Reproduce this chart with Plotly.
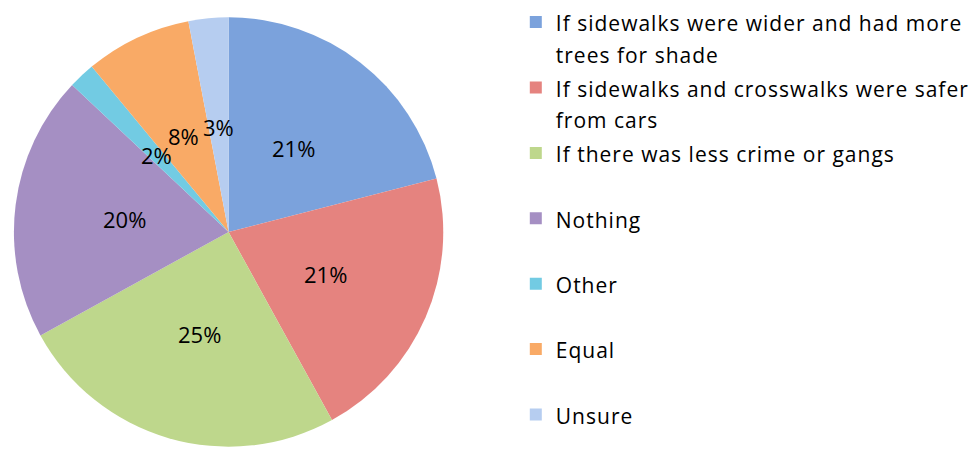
import math
import plotly.graph_objects as go

# ---- data ----
legend_lines = [
    ["If sidewalks were wider and had more", "trees for shade"],
    ["If sidewalks and crosswalks were safer", "from cars"],
    ["If there was less crime or gangs"],
    ["Nothing"],
    ["Other"],
    ["Equal"],
    ["Unsure"],
]
values = [21, 21, 25, 20, 2, 8, 3]
colors = ["#7ba2dc", "#e5837f", "#bed78c", "#a58fc3", "#72cbe3", "#f9aa66", "#b6cdf0"]

W, H = 974, 449
# pie domain in pixels
px0, px1 = 14, 446
py_top, py_bot = 15, 449
dom_x = [px0 / W, px1 / W]
dom_y = [(H - py_bot) / H, (H - py_top) / H]

FONT = "Open Sans"
TEXT_STYLE = "font-size:21px;letter-spacing:1px"
LEG_FONT = 24


def leg_text(lines, pad):
    parts = [f'<span style="{TEXT_STYLE}">{ln}</span>' for ln in lines]
    if len(parts) == 1 and pad:
        parts.append(f'<span style="{TEXT_STYLE}">\u00a0</span>')
    return "<br>".join(parts)


n = len(legend_lines)
fig = go.Figure()
fig.add_trace(go.Pie(
    labels=[leg_text(l, i < n - 1) for i, l in enumerate(legend_lines)],
    values=values,
    sort=False,
    direction="clockwise",
    rotation=0,
    marker=dict(colors=colors, line=dict(width=0)),
    textinfo="none",
    hoverinfo="label+percent",
    domain=dict(x=dom_x, y=dom_y),
))

# percentage labels placed from the slice angles
cx = (px0 + px1) / 2
cy = (py_top + py_bot) / 2
R = min(px1 - px0, py_bot - py_top) / 2
total = sum(values)
cum = 0
annotations = []
for v in values:
    mid = (cum + v / 2) / total * 2 * math.pi
    cum += v
    r = 0.49 * R
    x = cx + r * math.sin(mid)
    y = cy - r * math.cos(mid)
    annotations.append(dict(
        x=x / W, y=1 - y / H, xref="paper", yref="paper",
        text=f"{round(v / total * 100)}%", showarrow=False,
        font=dict(family=FONT, size=22, color="#000000"),
        xanchor="center", yanchor="middle",
    ))

fig.update_layout(
    width=W, height=H,
    margin=dict(l=0, r=0, t=0, b=0),
    paper_bgcolor="white",
    plot_bgcolor="white",
    annotations=annotations,
    showlegend=True,
    legend=dict(
        x=519 / W, xanchor="left", y=1, yanchor="top",
        font=dict(family=FONT, size=LEG_FONT, color="#000000"),
        valign="top", traceorder="normal",
        bgcolor="rgba(0,0,0,0)",
        maxheight=600,
    ),
)

fig.write_html("out.html", config={"displayModeBar": False},
               post_script="document.body.style.margin='0';")
